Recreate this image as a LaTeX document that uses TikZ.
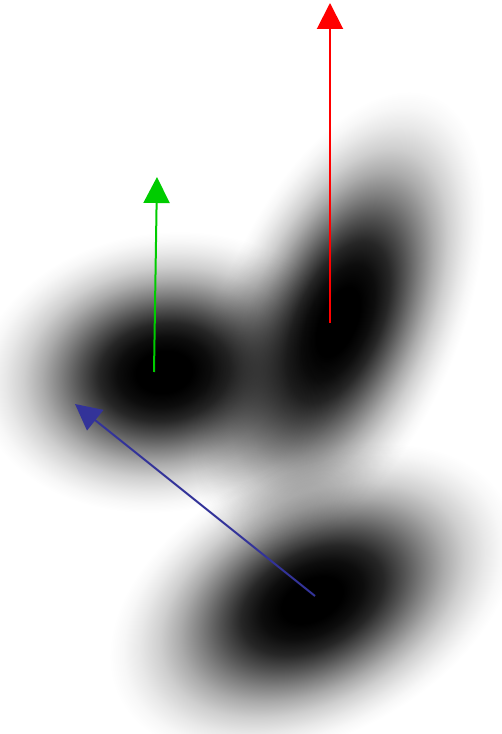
\documentclass[tikz,border=0pt]{standalone}
\usetikzlibrary{arrows.meta,fadings}
\pgfdeclareradialshading{gaussshade}{\pgfpointorigin}{%
color(0bp)=(pgftransparent!0); color(3.6bp)=(pgftransparent!0);
color(6bp)=(pgftransparent!5); color(8.4bp)=(pgftransparent!15);
color(10.8bp)=(pgftransparent!32); color(13.2bp)=(pgftransparent!50);
color(15.6bp)=(pgftransparent!67); color(18bp)=(pgftransparent!81);
color(20.4bp)=(pgftransparent!91); color(22.3bp)=(pgftransparent!97);
color(24bp)=(pgftransparent!100); color(50bp)=(pgftransparent!100)}
\pgfdeclarefading{gauss}{\pgfuseshading{gaussshade}}
\definecolor{redarrow}{RGB}{255,0,0}
\definecolor{greenarrow}{RGB}{0,204,0}
\definecolor{bluearrow}{RGB}{51,51,153}
\tikzset{
  blob/.style={black, path fading=gauss},
  vec/.style={line width=2pt, -{Triangle[length=26pt,width=26pt]}}
}
\begin{document}
\begin{tikzpicture}[x=1pt,y=1pt]
\useasboundingbox (0,0) rectangle (501,734);
% blobs
\begin{scope}[transform canvas={shift={(164,362)}, rotate=8}]
  \fill[blob] (0,0) ellipse (195 and 145);
\end{scope}
\begin{scope}[transform canvas={shift={(338,412)}, rotate=67}]
  \fill[blob] (0,0) ellipse (255 and 125);
\end{scope}
\begin{scope}[transform canvas={shift={(312,134)}, rotate=27}]
  \fill[blob] (0,0) ellipse (225 and 142);
\end{scope}
% arrows
\coordinate (r0) at (330,411);
\coordinate (r1) at (330,731);
\coordinate (g0) at (154,362);
\coordinate (g1) at (157,557);
\coordinate (b0) at (315,138);
\coordinate (b1) at (75,330);
\draw[vec, redarrow] (r0) -- (r1);
\draw[vec, greenarrow] (g0) -- (g1);
\draw[vec, bluearrow] (b0) -- (b1);
\end{tikzpicture}
\end{document}
